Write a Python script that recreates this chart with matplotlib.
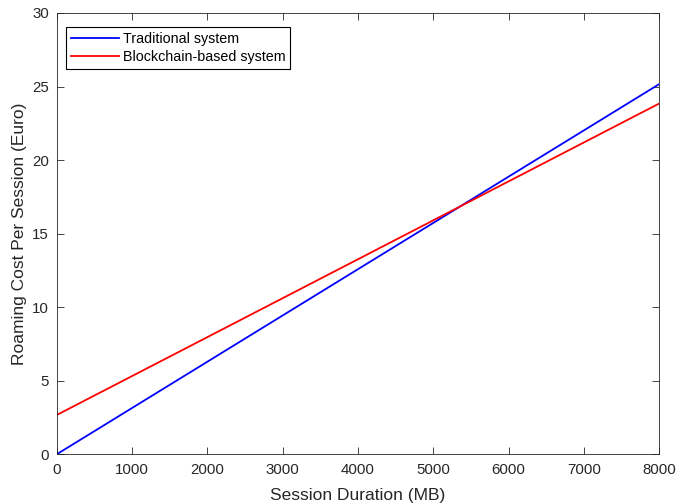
import matplotlib
matplotlib.use("Agg")
import matplotlib.pyplot as plt

plt.rcParams['font.family'] = ['Liberation Sans', 'DejaVu Sans']

x = [0, 8000]
traditional = [0.0, 25.17]
blockchain = [2.67, 23.85]
xticks = [0, 1000, 2000, 3000, 4000, 5000, 6000, 7000, 8000]
yticks = [0, 5, 10, 15, 20, 25, 30]

fig = plt.figure(figsize=(6.78, 5.03), dpi=100)
ax = fig.add_axes([56.7/678, 1 - 454.3/503, (659.3-56.7)/678, (454.3-13)/503])
ax.plot(x, traditional, color='#0000ff', lw=1.3, label='Traditional system')
ax.plot(x, blockchain, color='#ff0000', lw=1.3, label='Blockchain-based system')
ax.set_xlim(0, 8000)
ax.set_ylim(0, 30)
ax.set_xticks(xticks)
ax.set_yticks(yticks)
ax.tick_params(direction='in', top=True, right=True, labelsize=10.8, colors='#262626', length=5, width=0.6)
ax.tick_params(axis='x', pad=6.5)
ax.tick_params(axis='y', pad=5.5)
for s in ax.spines.values():
    s.set_color('#262626')
    s.set_linewidth(0.6)
ax.set_xlabel('Session Duration (MB)', fontsize=12.5, color='#262626', labelpad=8)
ax.set_ylabel('Roaming Cost Per Session (Euro)', fontsize=12.5, color='#262626', labelpad=4)
leg = ax.legend(loc='upper left', bbox_to_anchor=(0.016, 0.969), fontsize=10.3, fancybox=False,
                framealpha=1, edgecolor='black', handlelength=3.3, borderpad=0.35,
                borderaxespad=0, labelspacing=0.3, handletextpad=0.3)
leg.get_frame().set_linewidth(0.8)
fig.savefig('out.png', dpi=100)
